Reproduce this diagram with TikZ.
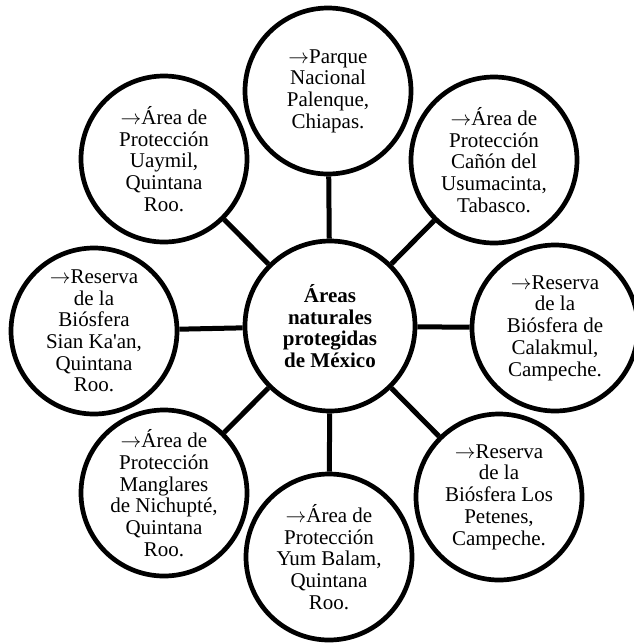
\documentclass[tikz,border=0pt]{standalone}
\usepackage{fontspec}
\setmainfont{Liberation Serif}[Ligatures=TeXOff]
\begin{document}
\begin{tikzpicture}[x=1pt,y=-1pt,
  bubble/.style={circle,draw=black,line width=4.7pt,fill=white,minimum size=166pt,inner sep=0pt,align=center,font=\fontsize{21}{21.7}\selectfont},
  hub/.style={bubble,minimum size=170pt,font=\fontsize{21}{21.7}\selectfont\bfseries},
  link/.style={line width=5pt}]
\useasboundingbox (0,0) rectangle (634,643);
\node[hub] (c) at (330,326) {Áreas\\naturales\\protegidas\\de México};
\node[bubble] (n) at (328,91) {$\rightarrow$Parque\\Nacional\\Palenque,\\Chiapas.};
\node[bubble] (ne) at (494,160) {$\rightarrow$Área de\\Protección\\Cañón del\\Usumacinta,\\Tabasco.};
\node[bubble] (e) at (555,328) {$\rightarrow$Reserva\\de la\\Biósfera de\\Calakmul,\\Campeche.};
\node[bubble] (se) at (499,497) {$\rightarrow$Reserva\\de la\\Biósfera Los\\Petenes,\\Campeche.};
\node[bubble] (s) at (329,557) {$\rightarrow$Área de\\Protección\\Yum Balam,\\Quintana\\Roo.};
\node[bubble] (sw) at (164,493) {$\rightarrow$Área de\\Protección\\Manglares\\de Nichupté,\\Quintana\\Roo.};
\node[bubble] (w) at (94,331) {$\rightarrow$Reserva\\de la\\Biósfera\\Sian Ka'an,\\Quintana\\Roo.};
\node[bubble] (nw) at (164,159) {$\rightarrow$Área de\\Protección\\Uaymil,\\Quintana\\Roo.};
\foreach \t in {n,ne,e,se,s,sw,w,nw} \draw[link] (c) -- (\t);
\end{tikzpicture}
\end{document}
